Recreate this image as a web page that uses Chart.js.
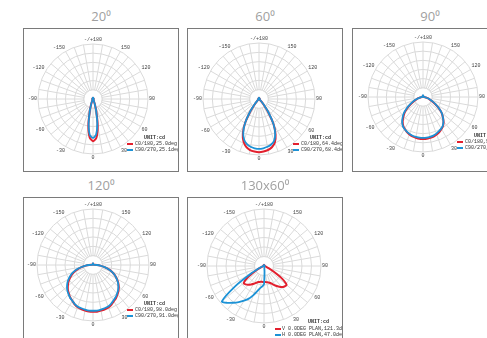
<!DOCTYPE html>
<html><head><meta charset="utf-8">
<script src="https://cdn.jsdelivr.net/npm/chart.js@4"></script>
<style>
html,body{margin:0;padding:0;background:#fff;overflow:hidden;width:487px;height:338px;position:relative;}
.title{position:absolute;font-family:"Open Sans",sans-serif;font-size:13px;color:#a0a0a0;text-align:center;width:160px;line-height:16px;}
.box{position:absolute;border:1px solid #7a7a7a;overflow:hidden;background:#fff;}
.box canvas{position:absolute;}
.leg{position:absolute;font-family:"Liberation Mono",monospace;font-size:5px;line-height:6px;color:#333;white-space:nowrap;}
.unit{font-weight:bold;}
.sw{position:absolute;height:2px;}
</style></head><body>
<script>
// ---------- categories (gamma angles, clockwise from top) ----------
const gammaLabels = [180,175,170,165,160,155,150,145,140,135,130,125,120,115,110,105,100,95,90,85,80,75,70,65,60,55,50,45,40,35,30,25,20,15,10,5,0,
  -5,-10,-15,-20,-25,-30,-35,-40,-45,-50,-55,-60,-65,-70,-75,-80,-85,-90,-95,-100,-105,-110,-115,-120,-125,-130,-135,-140,-145,-150,-155,-160,-165,-170,-175];
// ---------- tick labels ----------
const tickAngles = [180,150,120,90,60,30,0,-30,-60,-90,-120,-150];
const tickTexts  = ['-/+180','150','120','90','60','30','0','-30','-60','-90','-120','-150'];
const ringMax = 60, ringStep = 10;
// ---------- titles & legend texts ----------
const titles = ['20\u2070','60\u2070','90\u2070','120\u2070','130x60\u2070'];
const legendRed  = ['C0/180,25.0deg','C0/180,64.4deg','C0/180,90.8deg','C0/180,98.0deg','V 0.0DEG PLAN,121.3deg'];
const legendBlue = ['C90/270,25.1deg','C90/270,68.4deg','C90/270,91.6deg','C90/270,91.0deg','H 0.0DEG PLAN,47.0deg'];
const unitText = 'UNIT:cd';

// ---------- series values: half curves, gamma 0..180 (pos) and 0..-180 (neg), 5 deg steps ----------
// Panel 1 (20 deg)
const p1RedPos  = [46,42.5,29.5,14,5.5,2.2,1.1,0.9,0.8,0.8, 0.8,0.8,0.8,0.8,0.8,0.8,0.8,0.8,0.8,0.8, 0.8,0.8,0.8,0.8,0.8,0.8,0.8,0.8,0.8,0.8, 0.8,0.8,0.9,1,1.1,1.2,1.3];
const p1RedNeg  = [46,42,29,13.5,5.3,2.1,1.1,0.9,0.8,0.8, 0.8,0.8,0.8,0.8,0.8,0.8,0.8,0.8,0.8,0.8, 0.8,0.8,0.8,0.8,0.8,0.8,0.8,0.8,0.8,0.8, 0.8,0.8,0.9,1,1.1,1.2,1.3];
const p1BluePos = [42.5,39,27,13,5.2,2.1,1.1,0.9,0.8,0.8, 0.8,0.8,0.8,0.8,0.8,0.8,0.8,0.8,0.8,0.8, 0.8,0.8,0.8,0.8,0.8,0.8,0.8,0.8,0.8,0.8, 0.8,0.8,0.9,1.1,1.3,1.5,1.6];
const p1BlueNeg = [42.5,39.5,27.5,13.5,5.4,2.1,1.1,0.9,0.8,0.8, 0.8,0.8,0.8,0.8,0.8,0.8,0.8,0.8,0.8,0.8, 0.8,0.8,0.8,0.8,0.8,0.8,0.8,0.8,0.8,0.8, 0.8,0.8,0.9,1.1,1.3,1.5,1.6];
// Panel 2 (60 deg)
const p2RedPos  = [57,56.5,55.5,53.5,49.5,42,31,17,7,2.3, 1.1,0.9,0.8,0.8,0.8,0.8,0.8,0.8,0.8,0.8, 0.8,0.8,0.8,0.8,0.8,0.8,0.8,0.8,0.8,0.8, 0.8,0.8,0.9,1,1.1,1.2,1.3];
const p2RedNeg  = [57,56.5,55.5,53,48.5,41,30,16,6.2,2.1, 1.1,0.9,0.8,0.8,0.8,0.8,0.8,0.8,0.8,0.8, 0.8,0.8,0.8,0.8,0.8,0.8,0.8,0.8,0.8,0.8, 0.8,0.8,0.9,1,1.1,1.2,1.3];
const p2BluePos = [53.5,53,52,50.5,47.5,41,31,18,7.5,2.7, 1.1,0.9,0.8,0.8,0.8,0.8,0.8,0.8,0.8,0.8, 0.8,0.8,0.8,0.8,0.8,0.8,0.8,0.8,0.8,0.8, 0.8,0.8,0.9,1,1.2,1.4,1.5];
const p2BlueNeg = [53.5,53,52,50,46.5,40,30,17,7,2.5, 1.1,0.9,0.8,0.8,0.8,0.8,0.8,0.8,0.8,0.8, 0.8,0.8,0.8,0.8,0.8,0.8,0.8,0.8,0.8,0.8, 0.8,0.8,0.9,1,1.2,1.4,1.5];
// Panel 3 (90 deg)
const p3RedPos  = [45.8,45.8,45.2,44.7,43.6,42.2,40.3,38.2,34.9,30.5, 26.2,20.7,15.3,10.9,7.6,5.2,3.3,2,1.1,0.9, 0.8,0.8,0.8,0.8,0.8,0.8,0.8,0.8,0.8,0.8, 0.8,0.8,0.9,1,1.2,1.4,1.5];
const p3RedNeg  = [45.8,45.8,45.2,44.6,43.4,42,40,37.8,34.5,30.2, 26,20.6,15.3,11,7.6,5.2,3.3,2,1.1,0.9, 0.8,0.8,0.8,0.8,0.8,0.8,0.8,0.8,0.8,0.8, 0.8,0.8,0.9,1,1.2,1.4,1.5];
const p3BluePos = [44.7,44.6,44.2,43.6,42.5,41.2,39.8,37.8,34.6,30.6, 26.3,21,16,11.4,8,5.4,3.3,2,1.1,0.9, 0.8,0.8,0.8,0.8,0.8,0.8,0.8,0.8,0.8,0.8, 0.8,0.8,0.9,1.1,1.4,1.7,1.9];
const p3BlueNeg = [44.7,44.6,44.2,43.8,42.8,41.6,40.3,38.5,35.4,31.4, 27.2,21.8,16.6,12,8.3,5.6,3.4,2,1.1,0.9, 0.8,0.8,0.8,0.8,0.8,0.8,0.8,0.8,0.8,0.8, 0.8,0.8,0.9,1.1,1.4,1.7,1.9];
// Panel 4 (120 deg)
const p4RedPos  = [50.2,50.2,49.6,49.1,48.5,46.9,44.7,43.1,40.9,38.7, 36,33,29.4,25.8,21.8,17.2,12,7.8,4.4,2.2, 1.1,0.9,0.8,0.8,0.8,0.8,0.8,0.8,0.8,0.8, 0.8,0.8,0.9,1,1.2,1.4,1.5];
const p4RedNeg  = [50.2,50.1,49.5,48.9,48.2,46.5,44.2,42.5,40.2,38, 35.2,32.2,28.7,25.2,21.3,16.8,11.7,7.6,4.3,2.2, 1.1,0.9,0.8,0.8,0.8,0.8,0.8,0.8,0.8,0.8, 0.8,0.8,0.9,1,1.2,1.4,1.5];
const p4BluePos = [49,49,48.5,48,47.3,45.8,43.8,42.2,40.1,38, 35.5,32.6,29.2,25.6,21.7,17.2,12,7.8,4.4,2.2, 1.1,0.9,0.8,0.8,0.8,0.8,0.8,0.8,0.8,0.8, 0.8,0.8,0.9,1.1,1.4,1.7,1.9];
const p4BlueNeg = [49,49,48.5,48,47.5,46.2,44.3,42.8,40.8,38.8, 36.3,33.5,30.2,26.6,22.5,17.8,12.5,8,4.4,2.2, 1.1,0.9,0.8,0.8,0.8,0.8,0.8,0.8,0.8,0.8, 0.8,0.8,0.9,1.1,1.4,1.7,1.9];
// Panel 5 (130x60 deg)
const p5RedPos  = [16.8,16.8,17.4,17.9,19,21.1,23.7,26.3,29,30.5, 31.1,23.2,11.6,5.3,2.6,1.6,1.1,0.9,0.8,0.8, 0.8,0.8,0.8,0.8,0.8,0.8,0.8,0.8,0.8,0.8, 0.8,0.8,0.8,0.9,1,1.1,1.2];
const p5RedNeg  = [16.8,16.8,16.8,17.4,17.9,19.5,21.6,23.7,25.8,27.4, 27.9,21.1,10.5,4.7,2.1,1.4,1.1,0.9,0.8,0.8, 0.8,0.8,0.8,0.8,0.8,0.8,0.8,0.8,0.8,0.8, 0.8,0.8,0.8,0.9,1,1.1,1.2];
const p5BluePos = [19,6.3,2.1,1.3,1.1,0.8,0.7,0.7,0.7,0.7, 0.7,0.7,0.7,0.7,0.7,0.7,0.7,0.7,0.7,0.7, 0.7,0.7,0.7,0.7,0.7,0.7,0.7,0.7,0.7,0.7, 0.7,0.7,0.8,0.9,1,1.1,1.2];
const p5BlueNeg = [19,21.6,23.7,27.4,32.6,37.9,42.1,46.3,50.5,54.8, 57.9,36.8,15.8,6.3,3.2,1.9,1.3,0.9,0.8,0.8, 0.7,0.7,0.7,0.7,0.7,0.7,0.7,0.7,0.7,0.7, 0.7,0.7,0.8,0.9,1,1.1,1.2];

const redHalves  = [[p1RedPos,p1RedNeg],[p2RedPos,p2RedNeg],[p3RedPos,p3RedNeg],[p4RedPos,p4RedNeg],[p5RedPos,p5RedNeg]];
const blueHalves = [[p1BluePos,p1BlueNeg],[p2BluePos,p2BlueNeg],[p3BluePos,p3BlueNeg],[p4BluePos,p4BlueNeg],[p5BluePos,p5BlueNeg]];

// ---------- layout (positions / styles) ----------
const layout = [
  {box:[23,28,154,142],  cx:93,  cy:99,  R:55, legend:'side'},
  {box:[187,28,154,142], cx:259, cy:99,  R:56, legend:'side'},
  {box:[352,28,154,142], cx:423, cy:97,  R:55, legend:'side'},
  {box:[23,197,154,160], cx:93,  cy:265, R:56, legend:'side'},
  {box:[187,197,154,160],cx:264, cy:266, R:57, legend:'below'}
];
const RED = '#e3202e', BLUE = '#1c92d6', GRID = '#dadada';
const LABEL_PAD = 1;

function fullSeries(h){ return gammaLabels.map(g => g >= 0 ? h[0][g/5] : h[1][-g/5]); }

const innerHub = {
  id:'innerHub',
  beforeDatasetsDraw(chart){
    const s = chart.scales.r;
    const r1 = s.getDistanceFromCenterForValue(ringStep);
    const c = chart.ctx;
    c.save();
    c.beginPath();
    c.arc(s.xCenter, s.yCenter, r1, 0, Math.PI*2);
    c.fillStyle = '#fff'; c.fill();
    c.strokeStyle = GRID; c.lineWidth = 1; c.stroke();
    c.restore();
  }
};

layout.forEach((L, i) => {
  const [bl, bt, bw, bh] = L.box;
  const t = document.createElement('div');
  t.className = 'title';
  t.textContent = titles[i];
  t.style.left = (bl + bw/2 + 1 - 80) + 'px';
  t.style.top = (bt - 20) + 'px';
  document.body.appendChild(t);

  const box = document.createElement('div');
  box.className = 'box';
  box.style.left = bl + 'px'; box.style.top = bt + 'px';
  box.style.width = bw + 'px'; box.style.height = bh + 'px';
  document.body.appendChild(box);

  const S = 2*L.R + 2*(LABEL_PAD + 9);
  const half = Math.floor(S/2);
  const cv = document.createElement('canvas');
  cv.width = S; cv.height = S;
  cv.style.left = (L.cx - half - 1 - (bl + 1)) + 'px';
  cv.style.top = (L.cy - half - (bt + 1)) + 'px';
  box.appendChild(cv);

  // legend
  const ox = L.cx - (bl + 1), oy = L.cy - (bt + 1);
  let u, lx, ly, tx;
  if (L.legend === 'side') { u = [ox+51, oy+36]; lx = ox+34; ly = oy+45; tx = ox+42; }
  else { u = [ox+44, oy+53]; lx = ox+11; ly = oy+63; tx = ox+18; }
  const unit = document.createElement('div');
  unit.className = 'leg unit'; unit.textContent = unitText;
  unit.style.left = u[0] + 'px'; unit.style.top = u[1] + 'px';
  box.appendChild(unit);
  [[RED, legendRed[i]], [BLUE, legendBlue[i]]].forEach((e, k) => {
    const sw = document.createElement('div');
    sw.className = 'sw'; sw.style.background = e[0];
    sw.style.left = lx + 'px'; sw.style.top = (ly + k*6 - 1) + 'px'; sw.style.width = '6px';
    box.appendChild(sw);
    const tt = document.createElement('div');
    tt.className = 'leg'; tt.textContent = e[1];
    tt.style.left = tx + 'px'; tt.style.top = (ly + k*6 - 3) + 'px';
    box.appendChild(tt);
  });

  new Chart(cv, {
    type:'radar',
    data:{
      labels: gammaLabels,
      datasets:[
        {label: legendBlue[i], data: fullSeries(blueHalves[i]), borderColor: BLUE, borderWidth: 1.8, fill:false, pointRadius:0},
        {label: legendRed[i],  data: fullSeries(redHalves[i]),  borderColor: RED,  borderWidth: 2, fill:false, pointRadius:0}
      ]
    },
    options:{
      responsive:false, animation:false, events:[],
      layout:{padding:0},
      plugins:{legend:{display:false}, tooltip:{enabled:false}},
      elements:{line:{tension:0.25}, point:{radius:0}},
      scales:{ r:{
        min:0, max:ringMax,
        ticks:{display:false, stepSize:ringStep},
        grid:{color:GRID, circular:true, lineWidth:1},
        angleLines:{color: ctx => (gammaLabels[ctx.index] % 10 === 0 ? GRID : 'rgba(0,0,0,0)'), lineWidth:1},
        pointLabels:{display:true, padding:LABEL_PAD, color:'#444',
          font:{family:'Liberation Mono', size:5},
          callback:(v) => { const j = tickAngles.indexOf(v); return j >= 0 ? tickTexts[j] : ''; }}
      }}
    },
    plugins:[innerHub]
  });
});
</script>
</body></html>
